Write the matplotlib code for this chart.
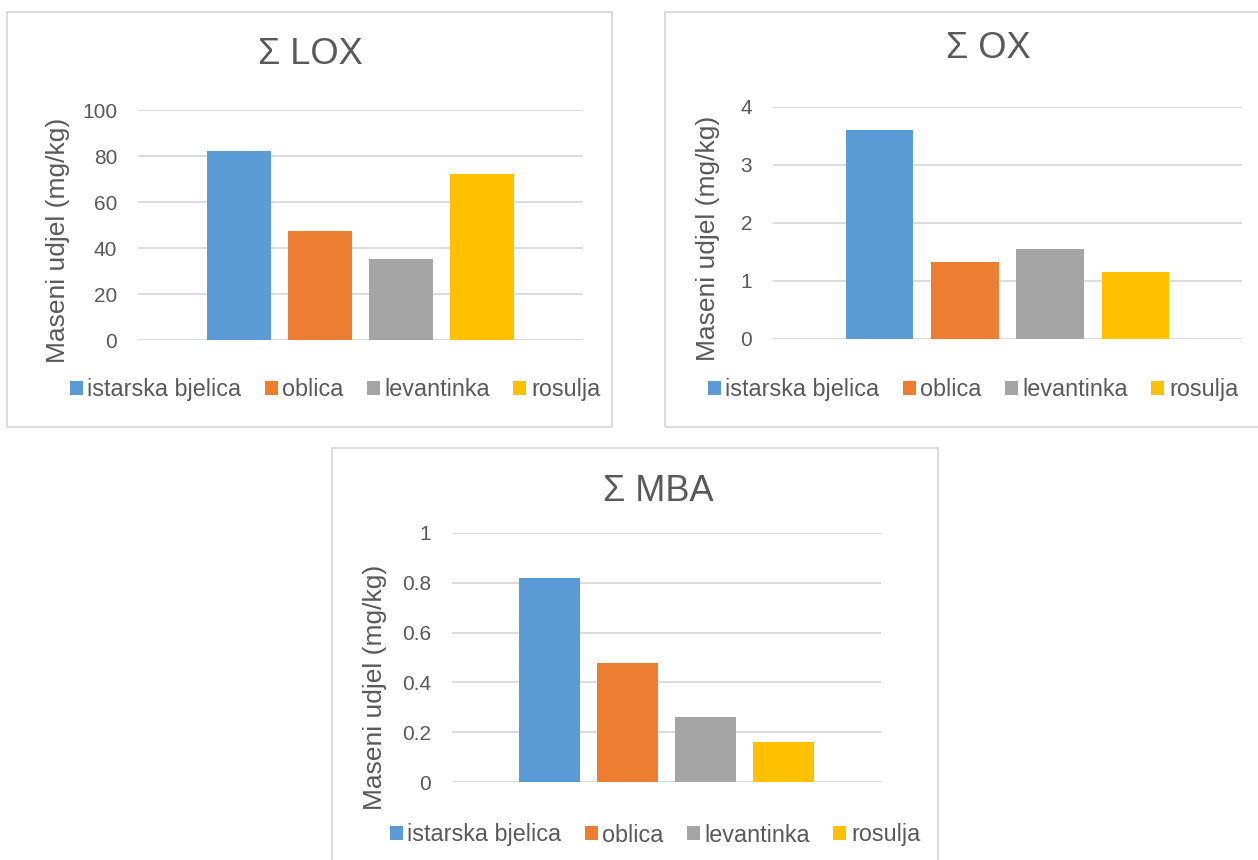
import matplotlib
matplotlib.use("Agg")
import matplotlib.pyplot as plt
from matplotlib.patches import Rectangle
from matplotlib.ticker import FuncFormatter

plt.rcParams['font.family'] = ['Liberation Sans', 'DejaVu Sans']

# Olive varieties and their colours
varieties = ["istarska bjelica", "oblica", "levantinka", "rosulja"]
colors = ["#5B9BD5", "#ED7D31", "#A5A5A5", "#FFC000"]

# Mass fraction (mg/kg) per variety
lox = [82, 47.6, 35.2, 72]
ox = [3.6, 1.335, 1.56, 1.16]
mba = [0.82, 0.478, 0.26, 0.16]

ylabel = "Maseni udjel (mg/kg)"
text_col = "#595959"
grid_col = "#D9D9D9"

W, H = 1258, 860
fig = plt.figure(figsize=(W / 100, H / 100), dpi=100)


def fx(x):
    return x / W


def fy(y):
    return 1 - y / H


def frame(x0, y0, x1, y1):
    # light grey chart border, coordinates in pixels from top-left
    r = Rectangle((fx(x0), fy(y1)), fx(x1 - x0), (y1 - y0) / H,
                  transform=fig.transFigure, fill=False,
                  edgecolor=grid_col, linewidth=1.3)
    fig.patches.append(r)


def panel(plot_box, values, ymax, ystep, title, title_xy, ylab_x, ylab_y, leg_xy):
    x0, y0, x1, y1 = plot_box
    ax = fig.add_axes([fx(x0), fy(y1), fx(x1 - x0), (y1 - y0) / H])
    for i, (v, c, name) in enumerate(zip(values, colors, varieties)):
        ax.bar(i, v, width=0.79, color=c, label=name, zorder=3)
    ax.set_xlim(-1.25, 4.25)
    ax.set_ylim(0, ymax)
    ticks = [ystep * k for k in range(int(round(ymax / ystep)) + 1)]
    ax.set_yticks(ticks)
    ax.yaxis.set_major_formatter(FuncFormatter(lambda v, p: f"{v:g}"))
    ax.set_xticks([])
    ax.tick_params(axis='y', length=0, pad=15, labelsize=15, labelcolor=text_col)
    ax.yaxis.grid(True, color=grid_col, linewidth=1.3, zorder=0)
    ax.set_axisbelow(True)
    for s in ax.spines.values():
        s.set_visible(False)
    ax.patch.set_alpha(0)

    fig.text(fx(title_xy[0]), fy(title_xy[1]), title, ha='center', va='center',
             fontsize=26, color=text_col)
    fig.text(fx(ylab_x), fy(ylab_y), ylabel, rotation=90, ha='center',
             va='center', fontsize=19, color=text_col)
    fig.legend(*ax.get_legend_handles_labels(), loc='center',
               bbox_to_anchor=(fx(leg_xy[0]), fy(leg_xy[1])), ncol=4,
               frameon=False, fontsize=16.8, labelcolor=text_col,
               handlelength=0.55, handleheight=0.55, handletextpad=0.2,
               columnspacing=1.0, borderpad=0)
    return ax


frame(7, 12, 612, 427)
frame(665, 12, 1272, 427)
frame(332, 448, 938, 875)

panel((138, 110, 583, 340), lox, 100, 20, "Σ LOX", (310, 54), 58, 240, (335, 390))
panel((773, 107, 1242, 339), ox, 4, 1, "Σ OX", (988, 49), 708, 238, (973, 390))
panel((452, 533, 881, 782), mba, 1, 0.2, "Σ MBA", (658, 491), 375, 687, (655, 835))

fig.savefig("out.png", dpi=100, facecolor="white")
